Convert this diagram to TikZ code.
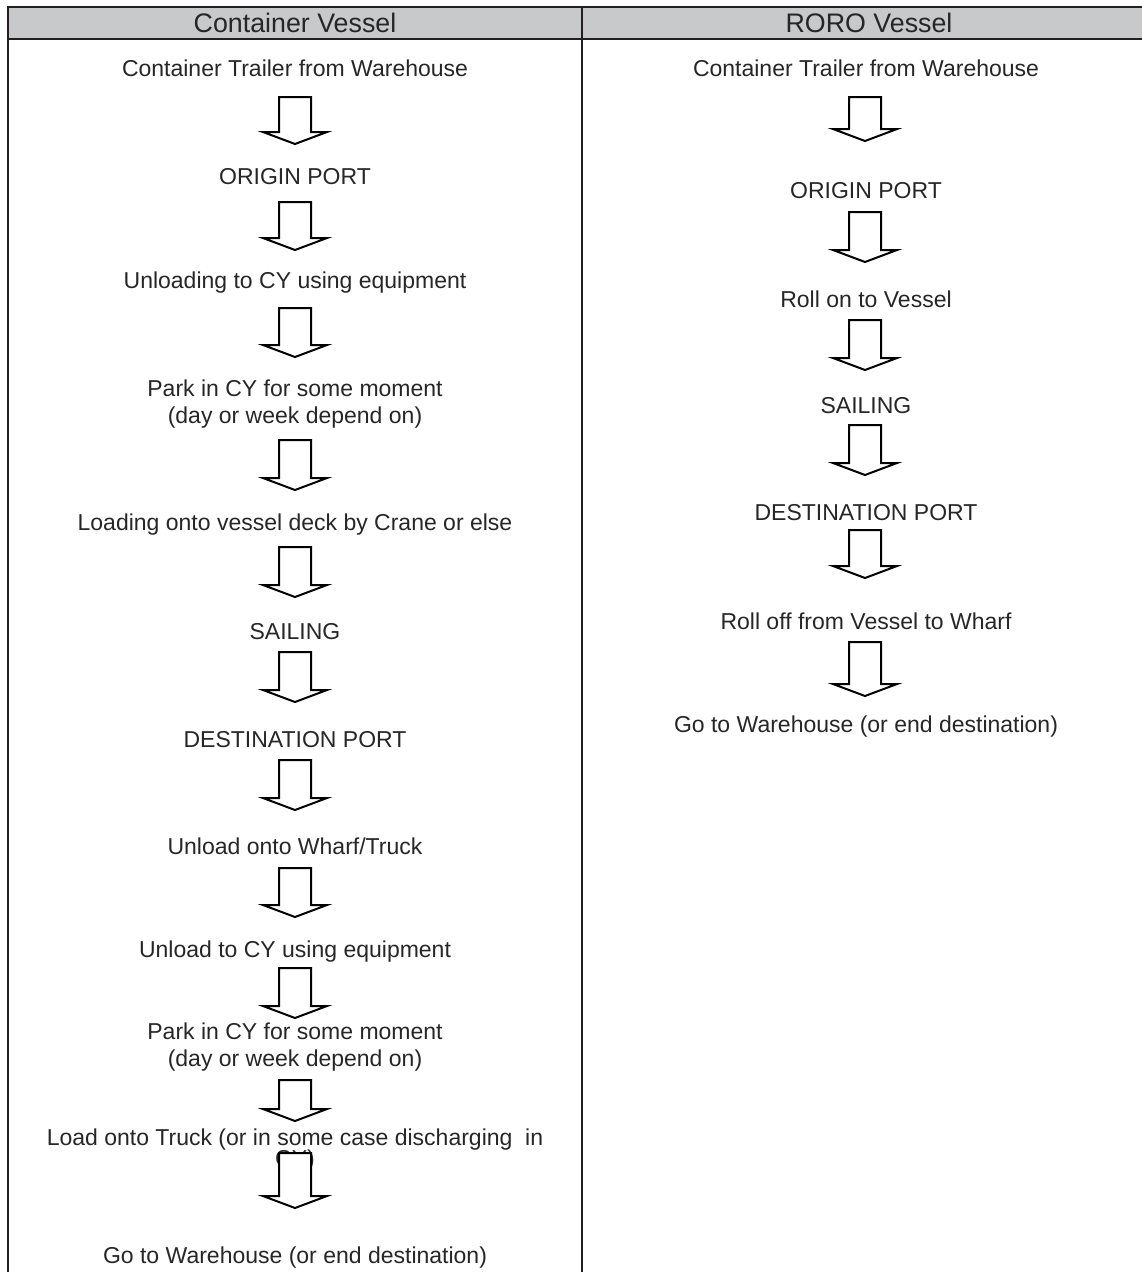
\documentclass[tikz,border=0pt]{standalone}
\usepackage{fontspec}
\setmainfont{Liberation Sans}
\definecolor{hdr}{HTML}{C8C9CB}
\definecolor{ink}{HTML}{231F20}
\definecolor{txt}{HTML}{262626}
% block arrow: x, top y, tip y
\newcommand\blockarr[3]{%
  \filldraw[blockarrow] (#1-16,#2) -- (#1+16,#2) -- (#1+16,#3-12) -- (#1+32,#3-12)
    -- (#1,#3) -- (#1-32,#3-12) -- (#1-16,#3-12) -- cycle;}
\tikzset{
  frame/.style={draw=ink, line width=2.4pt},
  blockarrow/.style={draw=black, fill=white, line width=2pt, line join=miter},
  stepbox/.style={text=txt, font=\fontsize{23}{27.5}\selectfont, align=center, inner sep=0pt},
  headbox/.style={text=txt, font=\fontsize{26.8}{30}\selectfont, inner sep=0pt},
}
\begin{document}
\begin{tikzpicture}[x=1pt,y=-1pt]
\useasboundingbox (0,0) rectangle (1142,1272);
% header
\fill[hdr] (8,7) rectangle (1142,39);
\draw[frame] (8,1272) -- (8,7) -- (1142,7);
\draw[frame] (8,39) -- (1142,39);
\draw[frame] (582,7) -- (582,1272);
\node[headbox] (hL) at (295,23) {Container Vessel};
\node[headbox] (hR) at (869,23) {RORO Vessel};
% left column
\def\xl{295}
\node[stepbox] (l1) at (\xl,68) {Container Trailer from Warehouse};
\blockarr{\xl}{97}{144}
\node[stepbox] (l2) at (\xl,177) {ORIGIN PORT};
\blockarr{\xl}{202}{250}
\node[stepbox] (l3) at (\xl,283) {Unloading to CY using equipment};
\blockarr{\xl}{308}{357}
\node[stepbox] (l4) at (\xl,404) {Park in CY for some moment\\(day or week depend on)};
\blockarr{\xl}{440}{490}
\node[stepbox] (l5) at (\xl,525) {Loading onto vessel deck by Crane or else};
\blockarr{\xl}{547}{597}
\node[stepbox] (l6) at (\xl,632) {SAILING};
\blockarr{\xl}{652}{702}
\node[stepbox] (l7) at (\xl,740) {DESTINATION PORT};
\blockarr{\xl}{760}{810}
\node[stepbox] (l8) at (\xl,846) {Unload onto Wharf/Truck};
\blockarr{\xl}{868}{917}
\node[stepbox] (l9) at (\xl,952) {Unload to CY using equipment};
\blockarr{\xl}{968}{1018}
\node[stepbox] (l10) at (\xl,1047) {Park in CY for some moment\\(day or week depend on)};
\blockarr{\xl}{1080}{1121}
\node[stepbox] (l11) at (\xl,1140) {Load onto Truck (or in some case discharging\ \ in};
\node[stepbox] (l11b) at (\xl,1161) {CY)};
\blockarr{\xl}{1153}{1208}
\node[stepbox] (l12) at (\xl,1258) {Go to Warehouse (or end destination)};
% right column
\def\xr{866}
\def\xa{865}
\node[stepbox] (r1) at (\xr,68) {Container Trailer from Warehouse};
\blockarr{\xa}{97}{141}
\node[stepbox] (r2) at (\xr,191) {ORIGIN PORT};
\blockarr{\xa}{212}{262}
\node[stepbox] (r3) at (\xr,299) {Roll on to Vessel};
\blockarr{\xa}{320}{370}
\node[stepbox] (r4) at (\xr,406) {SAILING};
\blockarr{\xa}{425}{475}
\node[stepbox] (r5) at (\xr,513) {DESTINATION PORT};
\blockarr{\xa}{530}{578}
\node[stepbox] (r6) at (\xr,621) {Roll off from Vessel to Wharf};
\blockarr{\xa}{642}{696}
\node[stepbox] (r7) at (\xr,727) {Go to Warehouse (or end destination)};
\end{tikzpicture}
\end{document}
